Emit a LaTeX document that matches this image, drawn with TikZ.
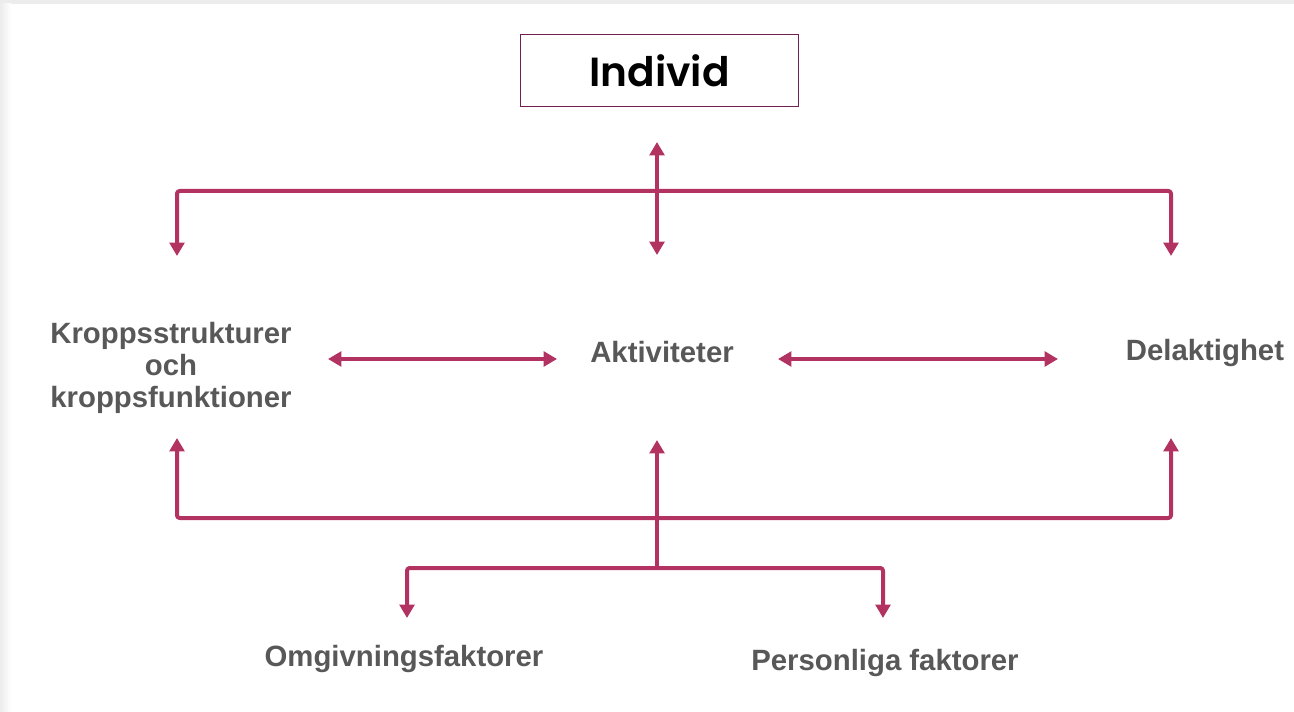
\documentclass[tikz,border=0pt]{standalone}
\usepackage{fontspec}
\usetikzlibrary{arrows.meta}
\setmainfont{Liberation Sans}
\newfontfamily\boxfont{Poppins SemiBold}
\definecolor{icfpink}{RGB}{178,50,98}
\definecolor{boxline}{RGB}{112,32,82}
\definecolor{labelgray}{RGB}{88,88,88}
\definecolor{edgegray}{RGB}{236,236,236}
\tikzset{
  label text/.style={text=labelgray, font=\bfseries\fontsize{22pt}{23.8pt}\selectfont, inner sep=0pt, align=center},
  link/.style={draw=icfpink, line width=3pt, line join=round, rounded corners=2pt},
  tip/.style={-{Triangle[length=10pt,width=11pt]}},
  tips/.style={{Triangle[length=10pt,width=11pt]}-{Triangle[length=10pt,width=11pt]}}
}
\begin{document}
\begin{tikzpicture}[x=0.75pt,y=0.75pt,yscale=-1,xscale=1]
\useasboundingbox (0,0) rectangle (1294,712);

%Shape: page edges
\fill[edgegray] (0,0) rectangle (1294,4);
\shade[left color=edgegray, right color=white] (0,4) rectangle (11,712);

% Text Node
\node[draw=boxline, line width=0.8pt, minimum width=209pt, minimum height=54pt, inner sep=0pt, font=\boxfont\fontsize{30.5pt}{34pt}\selectfont] (ind) at (659.5,70.5) {Individ};
% Text Node
\node[label text, anchor=center] (kropp) at (171,368) {Kroppsstrukturer\\och\\kroppsfunktioner};
% Text Node
\node[label text, anchor=base] (akt) at (662,363) {Aktiviteter};
% Text Node
\node[label text, anchor=base] (del) at (1205,361) {Delaktighet};
% Text Node
\node[label text, anchor=base] (omg) at (404,666) {Omgivningsfaktorer};
% Text Node
\node[label text, anchor=base] (pers) at (885,670) {Personliga faktorer};

%Coordinates: arrow ends and junctions
\coordinate (indTip) at (657,142);
\coordinate (aktTop) at (657,255);
\coordinate (kroppTop) at (177,256);
\coordinate (delTop) at (1171,256);
\coordinate (kroppBot) at (177,438);
\coordinate (delBot) at (1171,438);
\coordinate (aktBot) at (657,440);
\coordinate (split) at (657,568);
\coordinate (omgTip) at (407,618);
\coordinate (persTip) at (883,618);

%Straight Lines: top bar
\draw[link, tips] (kroppTop) |- (indTip |- 0,191) -| (delTop);
\draw[link, tips] (indTip) -- (aktTop);
%Straight Lines: middle row
\draw[link, tips] (328,359) coordinate (kroppR) -- (557,359) coordinate (aktL);
\draw[link, tips] (778,359) coordinate (aktR) -- (1058,359) coordinate (delL);
%Straight Lines: bottom bar
\draw[link, tips] (kroppBot) |- (split |- 0,518) -| (delBot);
\draw[link, tip] (split) -- (aktBot);
\draw[link, tips] (omgTip) |- (split) -| (persTip);

\end{tikzpicture}
\end{document}
